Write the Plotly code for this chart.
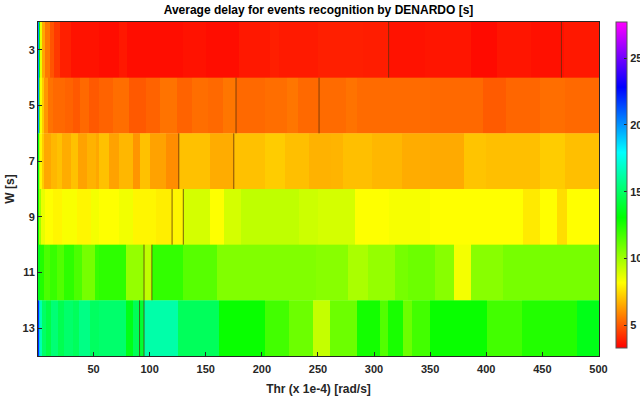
import plotly.graph_objects as go

# Window lengths W [s] (one heatmap row each)
w_values = [3, 5, 7, 9, 11, 13]

# Each row: threshold breakpoints (cell edges, Thr x 1e-4 rad/s) and average delay [s] per cell
row_edges = {
    3: [0.5, 1.5, 2.5, 4, 7, 11, 15, 20, 30, 55, 73, 80, 130, 150, 180, 207, 215, 250, 290,
        313, 345, 386, 410, 440, 469, 500.5],
    5: [0.5, 1.5, 2.5, 4, 6, 9, 14, 25, 32, 38, 46, 55, 67, 82, 97, 109, 124, 138, 152, 165,
        177, 203, 222, 232, 251, 275, 285, 350, 397, 418, 448, 470, 500.5],
    7: [0.5, 1.5, 2.5, 4, 6, 12, 17, 22, 30, 36, 44, 52, 55, 64, 73, 85, 91, 100, 115, 126,
        154, 175, 203, 221, 242, 262, 272, 298, 325, 350, 380, 400, 448, 470, 500.5],
    9: [0.5, 1.5, 3, 7, 14, 22, 35, 48, 55, 73, 85, 106, 120, 130, 154, 166, 181, 203, 233,
        250, 283, 313, 350, 433, 448, 463, 472, 500.5],
    11: [0.5, 2, 6, 11, 17, 24, 33, 40, 51, 55, 79, 95, 102, 130, 160, 203, 248, 277, 295,
         319, 330, 354, 371, 386, 415, 500.5],
    13: [0.5, 1.5, 2.5, 4, 8, 12, 18, 24, 32, 37, 47, 55, 79, 85, 91, 95, 125, 162, 203, 224,
         246, 261, 285, 305, 312, 326, 334, 350, 401, 432, 481, 500.5],
}
row_delays = {
    3: [20.0, 13.0, 8.6, 6.5, 5.6, 4.9, 4.4, 3.9, 3.65, 3.55, 3.75, 3.55, 3.65, 3.55, 3.75,
        3.9, 3.8, 3.9, 3.85, 3.65, 3.7, 3.5, 3.7, 3.6, 3.75],
    5: [20.0, 11.5, 8.3, 7.2, 6.2, 5.5, 5.3, 5.2, 5.0, 5.3, 5.0, 5.2, 5.4, 5.0, 5.2, 5.5,
        5.2, 5.4, 5.3, 5.55, 5.3, 5.4, 5.55, 5.3, 5.35, 5.5, 5.35, 5.3, 5.05, 5.25, 5.4, 5.3],
    7: [13.5, 9.5, 8.0, 7.2, 6.5, 6.8, 7.0, 6.6, 7.0, 6.4, 6.7, 6.5, 7.0, 6.4, 6.8, 6.15,
        7.0, 6.4, 6.0, 7.0, 6.6, 7.0, 7.2, 6.95, 6.7, 6.75, 6.95, 6.8, 6.6, 6.55, 7.05, 6.95,
        7.2, 6.95],
    9: [13.0, 10.0, 8.6, 8.2, 8.0, 8.3, 8.0, 8.4, 8.2, 8.42, 8.0, 7.85, 8.0, 9.0, 8.2, 9.0,
        9.4, 9.4, 9.15, 9.0, 8.2, 8.34, 8.18, 7.77, 8.18, 7.53, 8.18],
    11: [13.5, 12.4, 11.6, 12.0, 11.5, 12.2, 11.6, 10.8, 12.0, 12.2, 10.2, 9.4, 12.1, 11.4,
         10.6, 10.6, 10.45, 9.8, 10.2, 10.8, 11.0, 10.45, 8.4, 10.45, 10.78],
    13: [22.0, 19.0, 16.5, 15.0, 14.4, 15.3, 14.6, 15.1, 14.8, 15.6, 14.9, 15.1, 13.5, 14.7,
         14.0, 16.3, 14.8, 12.9, 11.8, 11.0, 9.3, 11.0, 12.7, 11.5, 12.6, 11.0, 11.8, 12.9,
         11.8, 12.4, 13.5],
}

# Thresholds where a row shows a dark separator line
dark_marks = {3: [313, 467], 5: [177, 251], 7: [126, 175], 9: [120, 130], 11: [95, 102], 13: [91, 95]}

x_ticks = [50, 100, 150, 200, 250, 300, 350, 400, 450, 500]
cbar_ticks = [5, 10, 15, 20, 25]

# hsv-like map running red -> yellow -> green -> cyan -> blue -> magenta
hsv_scale = [
    [0.0, "rgb(255,0,0)"],
    [0.2, "rgb(255,255,0)"],
    [0.4, "rgb(0,255,0)"],
    [0.6, "rgb(0,255,255)"],
    [0.8, "rgb(0,0,255)"],
    [1.0, "rgb(255,0,255)"],
]

fig = go.Figure()

for w in w_values:
    fig.add_trace(go.Heatmap(
        x=row_edges[w],
        y=[w - 1, w + 1],
        z=[row_delays[w]],
        coloraxis="coloraxis",
        hovertemplate="Thr %{x}<br>W %{y}<br>delay %{z:.2f} s<extra></extra>",
    ))

# dark separators, one vertical segment per entry spanning its row
lx, ly = [], []
for w in w_values:
    for t in dark_marks[w]:
        lx += [t, t, None]
        ly += [w - 1, w + 1, None]
fig.add_trace(go.Scatter(
    x=lx, y=ly, mode="lines",
    line=dict(color="rgba(90,45,10,0.75)", width=1),
    hoverinfo="skip", showlegend=False,
))

font_family = "Liberation Sans, Arial, sans-serif"

fig.update_layout(
    width=640, height=398,
    margin=dict(l=38, r=41, t=22, b=42, autoexpand=False),
    paper_bgcolor="white",
    plot_bgcolor="white",
    showlegend=False,
    font=dict(family=font_family, size=11, color="#262626", weight="bold"),
    title=dict(
        text="Average delay for events recognition by DENARDO [s]",
        x=0.5, xref="paper", xanchor="center",
        y=1.0, yref="container", yanchor="top", pad=dict(t=6),
        font=dict(family=font_family, size=12, color="black", weight="bold"),
    ),
    coloraxis=dict(
        colorscale=hsv_scale,
        cmin=3.3, cmax=27.7,
        colorbar=dict(
            thickness=11,
            lenmode="pixels", len=326,
            y=1.0, yanchor="top",
            x=1.03, xanchor="left", xpad=0, ypad=0,
            tickvals=cbar_ticks,
            ticks="inside", ticklen=3, tickcolor="#262626",
            outlinecolor="#555555", outlinewidth=1,
            tickfont=dict(family=font_family, size=11, color="#262626", weight="bold"),
        ),
    ),
    xaxis=dict(
        range=[0.5, 500.5],
        tickvals=x_ticks,
        ticks="inside", ticklen=4, tickcolor="#262626",
        ticklabelstandoff=3,
        showgrid=False, zeroline=False,
        showline=True, linecolor="#262626", linewidth=1, mirror=True,
        title=dict(text="Thr (x 1e-4) [rad/s]", standoff=10,
                   font=dict(family=font_family, size=12, color="#262626", weight="bold")),
        tickfont=dict(family=font_family, size=11, color="#262626", weight="bold"),
    ),
    yaxis=dict(
        range=[14, 2],
        tickvals=w_values,
        ticks="inside", ticklen=4, tickcolor="#262626",
        showgrid=False, zeroline=False,
        showline=True, linecolor="#262626", linewidth=1, mirror=True,
        title=dict(text="W [s]", standoff=5,
                   font=dict(family=font_family, size=12, color="#262626", weight="bold")),
        tickfont=dict(family=font_family, size=11, color="#262626", weight="bold"),
    ),
)

fig.write_html("out.html")
